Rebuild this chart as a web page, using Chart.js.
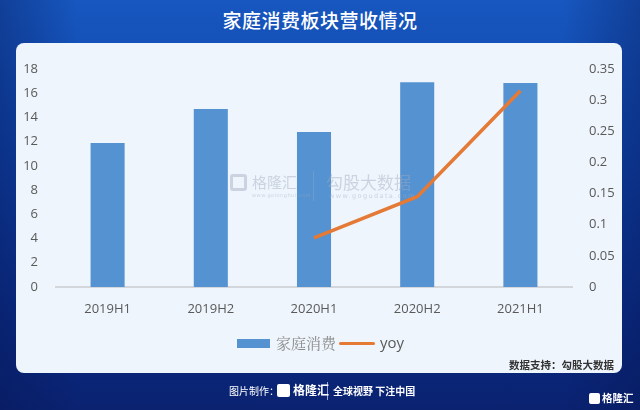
<!DOCTYPE html>
<html>
<head>
<meta charset="utf-8">
<script src="https://cdn.jsdelivr.net/npm/chart.js@4"></script>
<style>
  html, body { margin: 0; padding: 0; }
  body {
    width: 640px; height: 410px; overflow: hidden; position: relative;
    background: linear-gradient(to bottom, #1757bf 0%, #0f43a8 35%, #0b2c86 75%, #0a2270 100%);
    font-family: "Noto Sans CJK SC", "Noto Sans", sans-serif;
  }
  .shade { position: absolute; inset: 0; background: linear-gradient(to right, rgba(5,20,80,0.35), rgba(0,0,0,0) 12%, rgba(0,0,0,0) 88%, rgba(5,20,80,0.35)); }
  .title { position: absolute; left: 0; top: 6px; width: 640px; text-align: center; color: #fff; font-size: 19px; font-weight: 500; letter-spacing: 0.5px; }
  .panel { position: absolute; left: 16px; top: 43px; width: 606px; height: 330px; background: #eef5fc; border-radius: 8px; overflow: hidden; }
  #wrap { position: absolute; left: 0; top: 0; width: 606px; height: 330px; }
  .legend { position: absolute; top: 290px; left: 0; width: 606px; height: 20px; }
  .lg-bar { position: absolute; left: 221px; top: 6px; width: 33px; height: 9px; background: #5592d1; }
  .lg-t1 { position: absolute; left: 260px; top: -1px; font-family: "Noto Serif CJK SC", "AR PL UMing CN", serif; font-size: 15px; color: #8a8a8a; }
  .lg-line { position: absolute; left: 323px; top: 9px; width: 36px; height: 3px; background: #e47a35; border-radius: 2px; }
  .lg-t2 { position: absolute; left: 364px; top: -1px; font-family: "Open Sans", sans-serif; font-size: 15px; color: #595959; }
  .src { position: absolute; right: 8px; top: 314px; font-size: 10.5px; font-weight: 700; color: #333; }
  .wm { position: absolute; left: 214px; top: 128px; width: 200px; height: 40px; color: rgba(160,170,190,0.45); pointer-events: none; white-space: nowrap; }
  .wm .g { position: absolute; left: 0; top: 3px; width: 17px; height: 17px; border: 3px solid rgba(160,170,190,0.45); border-radius: 3px; box-sizing: border-box; }
  .wm .a { position: absolute; left: 22px; top: 0; font-size: 15px; }
  .wm .sep { position: absolute; left: 83px; top: 0; width: 1px; height: 30px; background: rgba(160,170,190,0.35); }
  .wm .b { position: absolute; left: 96px; top: -2px; font-size: 17px; }
  .wm .c { position: absolute; left: 99px; top: 21px; font-size: 6.5px; letter-spacing: 1.4px; font-family: "DejaVu Sans", sans-serif; }
  .wm .d { position: absolute; left: 22px; top: 21px; font-size: 5px; letter-spacing: 0.5px; font-family: "DejaVu Sans", sans-serif; }
  .foot { position: absolute; top: 382px; left: 0; width: 640px; height: 20px; color: #fff; white-space: nowrap; }
  .foot .f1 { position: absolute; left: 229px; top: 1px; font-size: 10px; }
  .foot .logo { position: absolute; left: 277px; top: 2px; width: 13px; height: 13px; background: #fff; border-radius: 2px; }
  .foot .f2 { position: absolute; left: 293px; top: -1px; font-size: 12px; font-weight: 700; }
  .foot .sep { position: absolute; left: 327px; top: 0; width: 1px; height: 18px; background: rgba(255,255,255,0.6); }
  .foot .f3 { position: absolute; left: 333px; top: 1px; font-size: 10px; font-weight: 700; }
  .corner { position: absolute; left: 589px; top: 390px; color: #fff; white-space: nowrap; }
  .corner .logo { position: absolute; left: 0; top: 3px; width: 11px; height: 11px; background: #fff; border-radius: 2px; }
  .corner .t { position: absolute; left: 13px; top: 0; font-size: 10.5px; font-weight: 700; }
</style>
</head>
<body>
<div class="shade"></div>
<div class="title">家庭消费板块营收情况</div>
<div class="panel">
  <div id="wrap"><canvas id="grafica"></canvas></div>
  <div class="wm">
    <div class="g"></div><div class="a">格隆汇</div><div class="d">www.gelonghui.com</div><div class="sep"></div>
    <div class="b">勾股大数据</div><div class="c">www.gogudata.com</div>
  </div>
  <div class="legend">
    <div class="lg-bar"></div><div class="lg-t1">家庭消费</div>
    <div class="lg-line"></div><div class="lg-t2">yoy</div>
  </div>
  <div class="src">数据支持：勾股大数据</div>
</div>
<div class="foot">
  <div class="f1">图片制作：</div><div class="logo"></div><div class="f2">格隆汇</div>
  <div class="sep"></div><div class="f3">全球视野 下注中国</div>
</div>
<div class="corner"><div class="logo"></div><div class="t">格隆汇</div></div>

<script>
const periodos = ['2019H1', '2019H2', '2020H1', '2020H2', '2021H1'];
const ingresos = [11.9, 14.7, 12.8, 16.9, 16.85];
const yoy = [null, null, 0.079, 0.145, 0.315];

(function() {
    const ctx = document.getElementById('grafica').getContext('2d');
    const fuenteTicks = { family: '"Open Sans", sans-serif', size: 13 };

    const myChart = new Chart(ctx, {
        type: 'bar',
        data: {
            labels: periodos,
            datasets: [{
                type: 'line',
                label: 'yoy',
                data: yoy,
                yAxisID: 'y1',
                borderColor: '#e47a35',
                borderWidth: 3.5,
                pointRadius: 0,
                tension: 0,
                order: 0
            }, {
                label: '家庭消费',
                data: ingresos,
                yAxisID: 'y',
                backgroundColor: '#5592d1',
                barPercentage: 0.66,
                categoryPercentage: 0.5,
                order: 1
            }]
        },
        options: {
            responsive: true,
            maintainAspectRatio: false,
            animation: false,
            layout: { padding: { top: 26, left: 0, right: 0, bottom: 0 } },
            scales: {
                x: {
                    grid: { display: false },
                    border: { color: '#d3d7dc', width: 2 },
                    ticks: { color: '#595959', font: fuenteTicks, padding: 6 },
                    afterFit: (s) => { s.height = 86; }
                },
                y: {
                    position: 'left',
                    min: 0, max: 18,
                    grid: { display: false },
                    border: { display: false },
                    ticks: { stepSize: 2, color: '#595959', font: fuenteTicks, padding: 10 },
                    afterFit: (s) => { s.width = 40; }
                },
                y1: {
                    position: 'right',
                    min: 0, max: 0.35,
                    grid: { display: false },
                    border: { display: false },
                    ticks: { stepSize: 0.05, color: '#595959', font: fuenteTicks, padding: 9,
                        callback: (v) => +v.toFixed(2) },
                    afterFit: (s) => { s.width = 50; }
                }
            },
            plugins: {
                legend: { display: false },
                tooltip: { enabled: false }
            }
        }
    });
})();
</script>
</body>
</html>
